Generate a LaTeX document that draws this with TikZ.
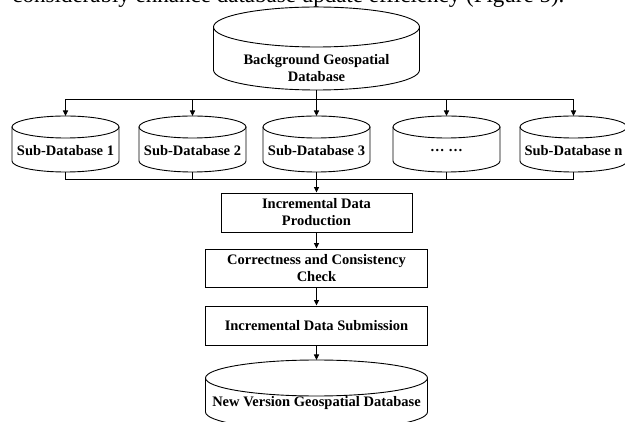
\documentclass[tikz,border=0pt]{standalone}
\usepackage{fontspec}
\setmainfont{Liberation Serif}
\usetikzlibrary{arrows.meta}

% Database cylinder: #1 name, #2 centre x, #3 top-ellipse centre y, #4 y where the sides end,
% #5 x radius, #6 y radius, #7 label y, #8 label
\newcommand\dbcyl[8]{%
  \draw (#2-#5,#3) -- (#2-#5,#4)
        arc[start angle=180,end angle=360,x radius=#5pt,y radius=#6pt] -- (#2+#5,#3);
  \draw (#2,#3) ellipse[x radius=#5pt,y radius=#6pt];
  \node[lab] (#1) at (#2,#7) {#8};
  \coordinate (#1-top) at (#2,#3-#6);
  \coordinate (#1-bot) at (#2,#4+#6);
}

\begin{document}
\begin{tikzpicture}[x=1pt,y=-1pt,line width=0.9pt,
  lab/.style={font=\bfseries\fontsize{14.5}{17}\selectfont,align=center,inner sep=0pt},
  proc/.style={draw,rectangle,inner sep=0pt,lab},
  arr/.style={-{Triangle[length=5.5pt,width=5pt]}},
  bodytext/.style={font=\fontsize{23}{26}\selectfont,inner sep=0pt,anchor=base west}]
\useasboundingbox (0,0) rectangle (625,422);
\clip (0,0) rectangle (625,422);

% running text above the figure
\node[bodytext] (intro) at (12,3) {considerably enhance database update efficiency (Figure 5).};

% databases
\dbcyl{bg}{316.5}{27}{70}{103}{20}{68.5}{Background Geospatial\\Database}
\dbcyl{sub1}{65.5}{127}{161}{53.5}{11}{151}{Sub-Database 1}
\dbcyl{sub2}{192.5}{127}{161}{53.5}{11}{151}{Sub-Database 2}
\dbcyl{sub3}{316.5}{127}{161}{53.5}{11}{151}{Sub-Database 3}
\dbcyl{subd}{446.5}{127}{161}{53.5}{11}{151}{… …}
\dbcyl{subn}{573.5}{127}{161}{53.5}{11}{151}{Sub-Database n}
\dbcyl{newdb}{316.5}{378}{412}{111}{18}{403}{New Version Geospatial Database}

% process steps
\node[proc,minimum width=191pt,minimum height=39pt] (prod) at (316.5,212.5) {Incremental Data\\Production};
\node[proc,minimum width=222pt,minimum height=38pt] (check) at (316.5,268) {Correctness and Consistency\\Check};
\node[proc,minimum width=222pt,minimum height=39pt] (submit) at (316.5,325.5) {Incremental Data Submission};

% distribution to the sub-databases
\coordinate (split) at (316.5,99);
\draw (bg-bot) -- (split);
\foreach \s in {sub1,sub2,sub3,subd,subn}
  \draw[arr] (split) -| (\s-top);

% collection from the sub-databases
\coordinate (merge) at (316.5,179);
\foreach \s in {sub1,sub2,sub3,subd,subn}
  \draw (\s-bot) |- (merge);
\draw[arr] (merge) -- (prod);

% processing chain
\draw[arr] (prod) -- (check);
\draw[arr] (check) -- (submit);
\draw[arr] (submit) -- (newdb-top);
\end{tikzpicture}
\end{document}
